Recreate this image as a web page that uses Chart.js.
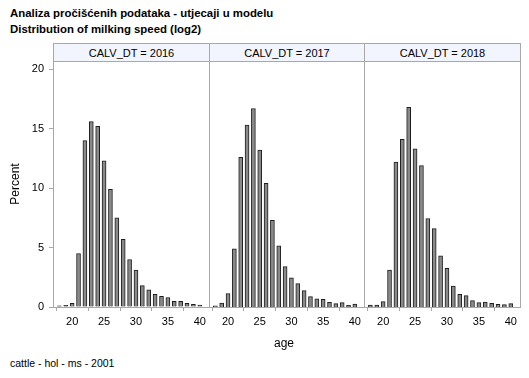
<!DOCTYPE html>
<html>
<head>
<meta charset="utf-8">
<script src="https://cdn.jsdelivr.net/npm/chart.js@4"></script>
<style>
    body { margin: 0; background: #fff; font-family: "Liberation Sans", Arial, sans-serif; }
    #wrap { position: relative; width: 529px; height: 378px; overflow: hidden; }
    .title { position: absolute; left: 10px; font-size: 11.4px; font-weight: bold; color: #000; }
    .hdr { position: absolute; top: 43px; height: 19px; background: #f3f5fe; border: 1px solid #a8a8a8; border-bottom: none;
           box-sizing: border-box; font-size: 11px; text-align: center; line-height: 18px; color: #000; }
    canvas { position: absolute; }
    .lbl { position: absolute; font-size: 12px; color: #000; }
</style>
</head>
<body>
<div id="wrap">
    <div class="title" style="top:7px">Analiza pročišćenih podataka - utjecaji u modelu</div>
    <div class="title" style="top:23px">Distribution of milking speed (log2)</div>
    <div class="hdr" style="left:53px;width:157px">CALV_DT = 2016</div>
    <div class="hdr" style="left:209px;width:156px">CALV_DT = 2017</div>
    <div class="hdr" style="left:364px;width:157px">CALV_DT = 2018</div>
    <canvas id="c2016" width="210" height="270" style="left:0;top:61px"></canvas>
    <canvas id="c2017" width="156" height="270" style="left:209px;top:61px"></canvas>
    <canvas id="c2018" width="157" height="270" style="left:364px;top:61px"></canvas>
    <div class="lbl" style="left:274px;top:336px">age</div>
    <div class="lbl" style="left:10px;top:357px;font-size:10.5px">cattle - hol - ms - 2001</div>
</div>
<script>
// Data
const ages = [18, 19, 20, 21, 22, 23, 24, 25, 26, 27, 28, 29, 30, 31, 32, 33, 34, 35, 36, 37, 38, 39, 40];
const pct2016 = [0.1, 0.15, 0.3, 4.5, 14.0, 15.6, 15.2, 12.3, 9.9, 7.5, 5.7, 4.0, 3.1, 1.8, 1.45, 1.07, 0.9, 0.8, 0.48, 0.48, 0.31, 0.23, 0.17];
const pct2017 = [0.1, 0.34, 1.13, 4.9, 12.6, 15.3, 16.7, 13.2, 10.4, 7.3, 5.15, 3.4, 2.45, 1.97, 1.38, 0.87, 0.68, 0.65, 0.39, 0.28, 0.37, 0.14, 0.25];
const pct2018 = [0.17, 0.17, 0.45, 3.1, 12.2, 14.1, 16.8, 13.3, 11.9, 7.45, 6.6, 4.3, 3.25, 1.77, 1.07, 0.96, 0.54, 0.37, 0.42, 0.31, 0.23, 0.2, 0.28];
const xTicks = [20, 25, 30, 35, 40];
const yTicks = [0, 5, 10, 15, 20];

const frameColor = '#a8a8a8';
const tickFont = { family: 'Liberation Sans', size: 11 };

// Top and right edges of the panel frame (left/bottom come from the axis borders)
const framePlugin = {
    id: 'frame',
    afterDatasetsDraw(chart) {
        const { ctx, chartArea: a } = chart;
        ctx.save();
        ctx.strokeStyle = frameColor;
        ctx.lineWidth = 1;
        ctx.beginPath();
        ctx.moveTo(Math.round(a.left), Math.round(a.top) + 0.5);
        ctx.lineTo(Math.round(a.right) - 0.5, Math.round(a.top) + 0.5);
        ctx.lineTo(Math.round(a.right) - 0.5, Math.round(a.bottom));
        ctx.stroke();
        if (!chart.options.scales.y.display) {
            ctx.beginPath();
            ctx.moveTo(Math.round(a.left) + 0.5, Math.round(a.top));
            ctx.lineTo(Math.round(a.left) + 0.5, Math.round(a.bottom));
            ctx.stroke();
        }
        ctx.restore();
    }
};

function makePanel(id, values, showY) {
    const ctx = document.getElementById(id).getContext('2d');
    return new Chart(ctx, {
        type: 'bar',
        data: {
            datasets: [{
                data: ages.map((a, i) => ({ x: a, y: values[i] })),
                backgroundColor: '#8a8a8a',
                borderColor: '#1e1e1e',
                borderWidth: 1,
                barThickness: 4,
                borderSkipped: 'bottom'
            }]
        },
        plugins: [framePlugin],
        options: {
            responsive: false,
            animation: false,
            layout: { padding: 0 },
            plugins: { legend: { display: false }, tooltip: { enabled: false } },
            scales: {
                x: {
                    type: 'linear',
                    offset: false,
                    min: 17,
                    max: 41.6,
                    afterBuildTicks: axis => { axis.ticks = xTicks.map(v => ({ value: v })); },
                    afterFit: axis => {
                        axis.height = 24;
                        axis.paddingLeft = 0;
                        axis.paddingRight = 0;
                    },
                    ticks: { color: '#000', font: tickFont, padding: 4, maxRotation: 0 },
                    grid: { drawOnChartArea: false, color: frameColor, tickLength: 4 },
                    border: { display: true, color: frameColor }
                },
                y: {
                    display: showY,
                    min: 0,
                    max: 20.7,
                    afterBuildTicks: axis => { axis.ticks = yTicks.map(v => ({ value: v })); },
                    afterFit: axis => {
                        if (showY) axis.width = 53;
                        axis.paddingTop = 0;
                        axis.paddingBottom = 0;
                    },
                    ticks: { color: '#000', font: tickFont, padding: 5 },
                    grid: { drawOnChartArea: false, color: frameColor, tickLength: 4 },
                    border: { display: true, color: frameColor },
                    title: { display: true, text: 'Percent', color: '#000', font: { family: 'Liberation Sans', size: 12 }, padding: { top: 8, bottom: 0 } }
                }
            }
        }
    });
}

makePanel('c2016', pct2016, true);
makePanel('c2017', pct2017, false);
makePanel('c2018', pct2018, false);
</script>
</body>
</html>
